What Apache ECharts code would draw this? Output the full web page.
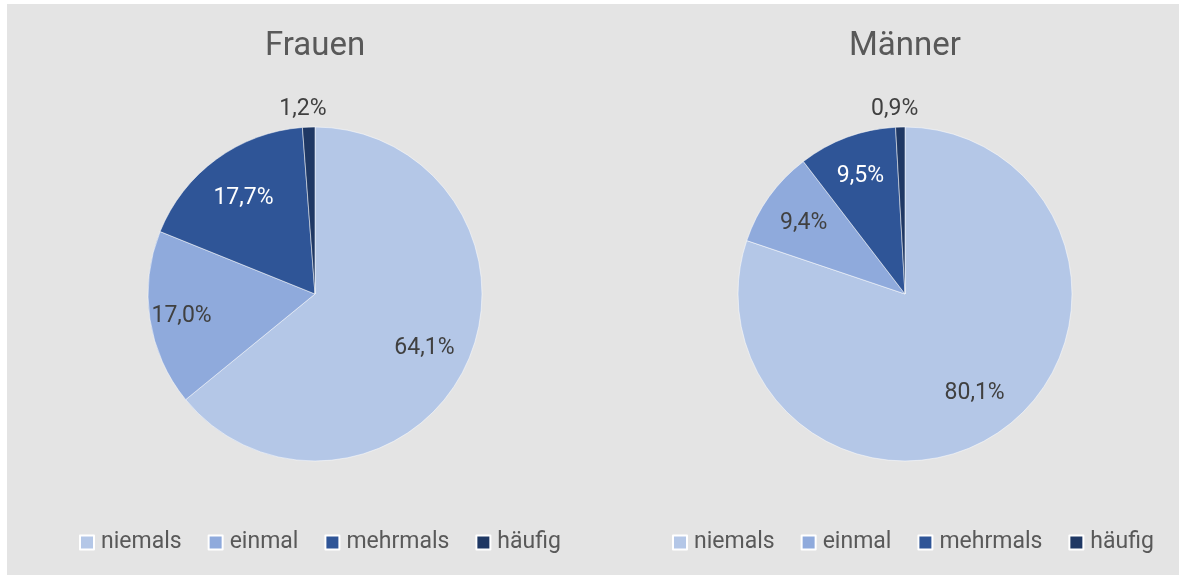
<!DOCTYPE html>
<html>
<head>
<meta charset="utf-8">
<script src="https://cdn.jsdelivr.net/npm/echarts@6/dist/echarts.min.js"></script>
<style>
  html, body { margin: 0; padding: 0; background: #ffffff; }
  #chart { width: 1179px; height: 575px; }
</style>
</head>
<body>
<div id="chart"></div>
<script>
// Answer categories (shared by both pies)
const categories = ['niemals', 'einmal', 'mehrmals', 'häufig'];
// Shares in percent
const frauenValues = [64.1, 17.0, 17.7, 1.2];
const maennerValues = [80.1, 9.4, 9.5, 0.9];
const panelTitles = ['Frauen', 'Männer'];

const colors = ['#b4c7e7', '#8faadc', '#2f5597', '#1f3864'];
const labelColors = ['#404040', '#404040', '#ffffff', '#404040'];
const FONT = 'Roboto, "Noto Sans", sans-serif';

// Pie geometry (pixels); label distance from the centre as a share of the radius
const RADIUS = 167;
const OUTER_LEN = 20;          // label line length used to anchor outside labels
const LABEL_DY = 2;            // small downward nudge for all slice labels
const pies = [
  { center: [315, 294], titleX: 310, labelRadius: [0.70, 0.78, 0.70, 1.12] },
  { center: [905, 294], titleX: 900, labelRadius: [0.69, 0.72, 0.74, 1.12] }
];
const outsideIndex = 3;        // the thin "häufig" slice is labelled outside

const fmt = v => v.toFixed(1).replace('.', ',') + '%';

function pieSeries(idx, values) {
  const p = pies[idx];
  return {
    type: 'pie',
    name: panelTitles[idx],
    center: p.center,
    radius: RADIUS,
    startAngle: 90,
    clockwise: true,
    avoidLabelOverlap: false,
    emphasis: { disabled: true },
    itemStyle: { borderColor: '#ffffff', borderWidth: 0.5 },
    labelLine: { show: false, length: OUTER_LEN, length2: 0 },
    label: {
      show: true,
      position: 'inside',
      alignTo: 'none',
      fontFamily: FONT,
      fontSize: 23,
      formatter: params => fmt(params.value)
    },
    // push each label out along its own radial line
    labelLayout: function (params) {
      const r = params.labelRect;
      const ax = params.align === 'right' ? r.x + r.width
               : params.align === 'left' ? r.x
               : r.x + r.width / 2;
      const ay = r.y + r.height / 2;
      const isOut = params.dataIndex === outsideIndex;
      const base = isOut ? (RADIUS + OUTER_LEN) / RADIUS : 0.5;
      const k = p.labelRadius[params.dataIndex] / base;
      return {
        x: p.center[0] + (ax - p.center[0]) * k,
        y: p.center[1] + (ay - p.center[1]) * k + LABEL_DY,
        align: 'center',
        verticalAlign: 'middle'
      };
    },
    data: categories.map((name, i) => ({
      name: name,
      value: values[i],
      itemStyle: { color: colors[i] },
      label: i === outsideIndex
        ? { color: labelColors[i], position: 'outside' }
        : { color: labelColors[i] }
    }))
  };
}

const chart = echarts.init(document.getElementById('chart'), null, { renderer: 'canvas' });

const legendBase = {
  orient: 'horizontal',
  icon: 'rect',
  itemWidth: 14,
  itemHeight: 14,
  itemGap: 26,
  selectedMode: false,
  textStyle: { fontFamily: FONT, fontSize: 23, color: '#595959', padding: [0, 0, 0, 2] },
  data: categories
};

chart.setOption({
  animation: false,
  backgroundColor: '#ffffff',
  color: colors,
  graphic: [{
    type: 'rect',
    shape: { x: 7, y: 4, width: 1172, height: 571 },
    style: { fill: '#e4e4e4' },
    silent: true,
    z: -10
  }],
  title: panelTitles.map((t, i) => ({
    text: t,
    left: pies[i].titleX,
    top: 25,
    textAlign: 'center',
    textStyle: { fontFamily: FONT, fontSize: 33, fontWeight: 'normal', color: '#595959' }
  })),
  legend: [
    Object.assign({}, legendBase, { left: 74, top: 526 }),
    Object.assign({}, legendBase, { left: 667, top: 526 })
  ],
  series: [pieSeries(0, frauenValues), pieSeries(1, maennerValues)]
});
</script>
</body>
</html>
